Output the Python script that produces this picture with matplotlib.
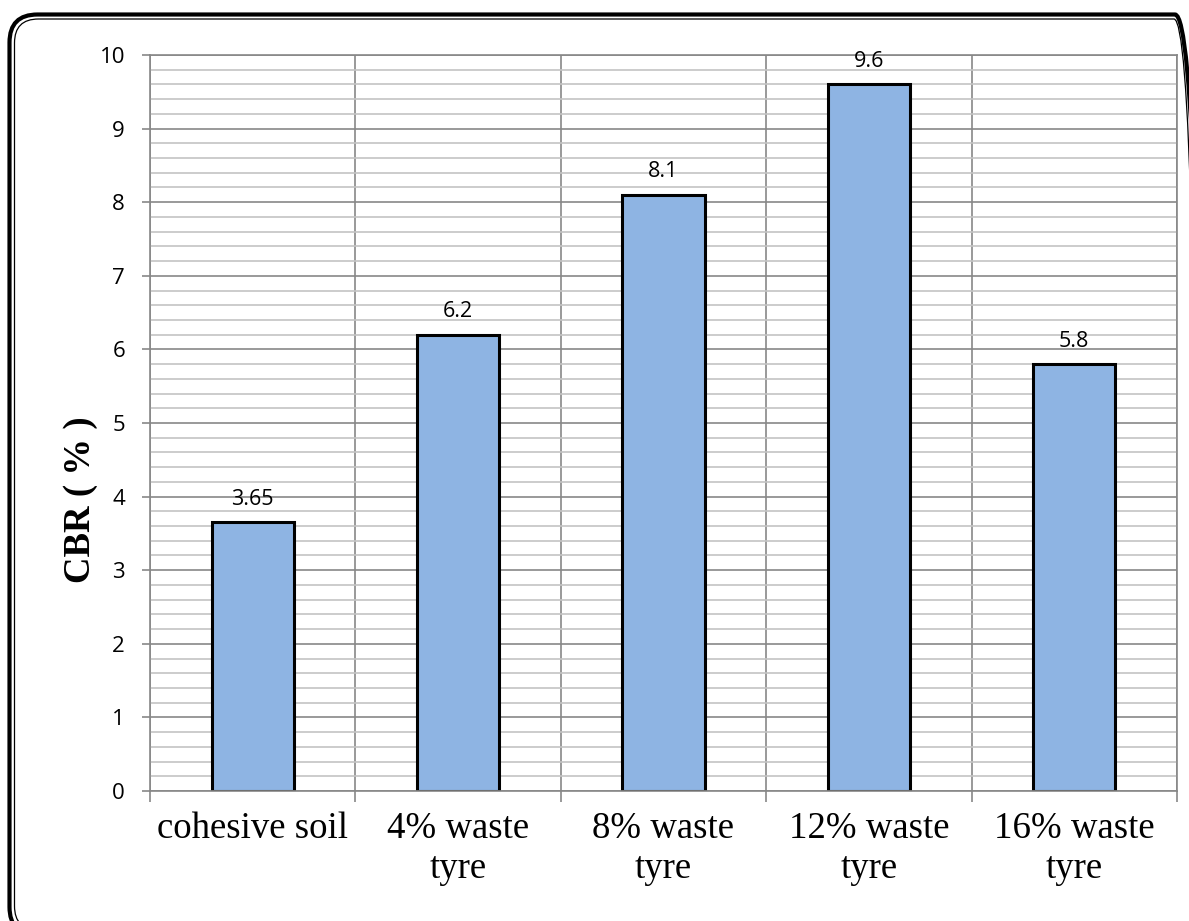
import matplotlib.pyplot as plt
import numpy as np
from matplotlib.patches import FancyBboxPatch
from matplotlib.ticker import MultipleLocator

# CBR test results
categories = ["cohesive soil", "4% waste\ntyre", "8% waste\ntyre",
              "12% waste\ntyre", "16% waste\ntyre"]
cbr_values = [3.65, 6.2, 8.1, 9.6, 5.8]
value_labels = ["3.65", "6.2", "8.1", "9.6", "5.8"]

W, H, DPI = 1189, 921, 100
BAR_COLOR = "#8EB4E3"
MAJOR_GRID = "#878787"
MINOR_GRID = "#c3c3c3"

fig = plt.figure(figsize=(W / DPI, H / DPI), dpi=DPI)
fig.patch.set_facecolor("white")

# plot area in pixel terms: left 150, right 1177, top 55, bottom 791
ax = fig.add_axes([150 / W, 1 - 791 / H, (1177 - 150) / W, (791 - 55) / H])

x = np.arange(len(categories))
bars = ax.bar(x, cbr_values, width=0.4, color=BAR_COLOR,
              edgecolor="black", linewidth=2.2)
ax.bar_label(bars, labels=value_labels, padding=9,
             fontsize=15.5, family="Open Sans")

ax.set_xlim(-0.5, len(categories) - 0.5)
ax.set_ylim(0, 10)

ax.yaxis.set_major_locator(MultipleLocator(1))
ax.yaxis.set_minor_locator(MultipleLocator(0.2))
ax.set_xticks(x)
ax.set_xticklabels(categories, family="Liberation Serif", fontsize=26.5)
ax.set_xticks(np.arange(len(categories) + 1) - 0.5, minor=True)

ax.set_axisbelow(True)
ax.grid(which="major", axis="y", color=MAJOR_GRID, linewidth=1.2)
ax.grid(which="minor", axis="y", color=MINOR_GRID, linewidth=1.2)
ax.grid(which="minor", axis="x", color=MAJOR_GRID, linewidth=1.2)

ax.tick_params(axis="x", which="major", length=0, pad=15)
ax.tick_params(axis="x", which="minor", length=8, width=1.2,
               color=MAJOR_GRID, direction="out")
ax.tick_params(axis="y", which="major", length=6, width=1.2,
               color=MAJOR_GRID, pad=12, labelsize=16)
ax.tick_params(axis="y", which="minor", length=0)
for lab in ax.get_yticklabels():
    lab.set_family("Open Sans")

for side in ["left", "bottom", "right", "top"]:
    ax.spines[side].set_color(MAJOR_GRID)
    ax.spines[side].set_linewidth(1.2)

# y-axis title (Times-like bold), placed as in the original
fig.text(80 / W, 1 - 500 / H, "CBR ( % )", rotation=90, ha="center",
         va="center", family="Liberation Serif", fontweight="bold",
         fontsize=26.5)


# rounded double-line chart frame, in pixel units
def px_box(x0, y0, x1, y1, lw, rad):
    return FancyBboxPatch((x0 / DPI, (H - y1) / DPI), (x1 - x0) / DPI,
                          (y1 - y0) / DPI,
                          boxstyle=f"round,pad=0,rounding_size={rad / DPI}",
                          transform=fig.dpi_scale_trans, fill=False,
                          edgecolor="black", linewidth=lw, clip_on=False)


fig.add_artist(px_box(9.5, 14.5, 1203, 935, 3.0, 28))
fig.add_artist(px_box(14.5, 19, 1198, 930, 0.9, 24))

fig.savefig("out.png", dpi=DPI)
